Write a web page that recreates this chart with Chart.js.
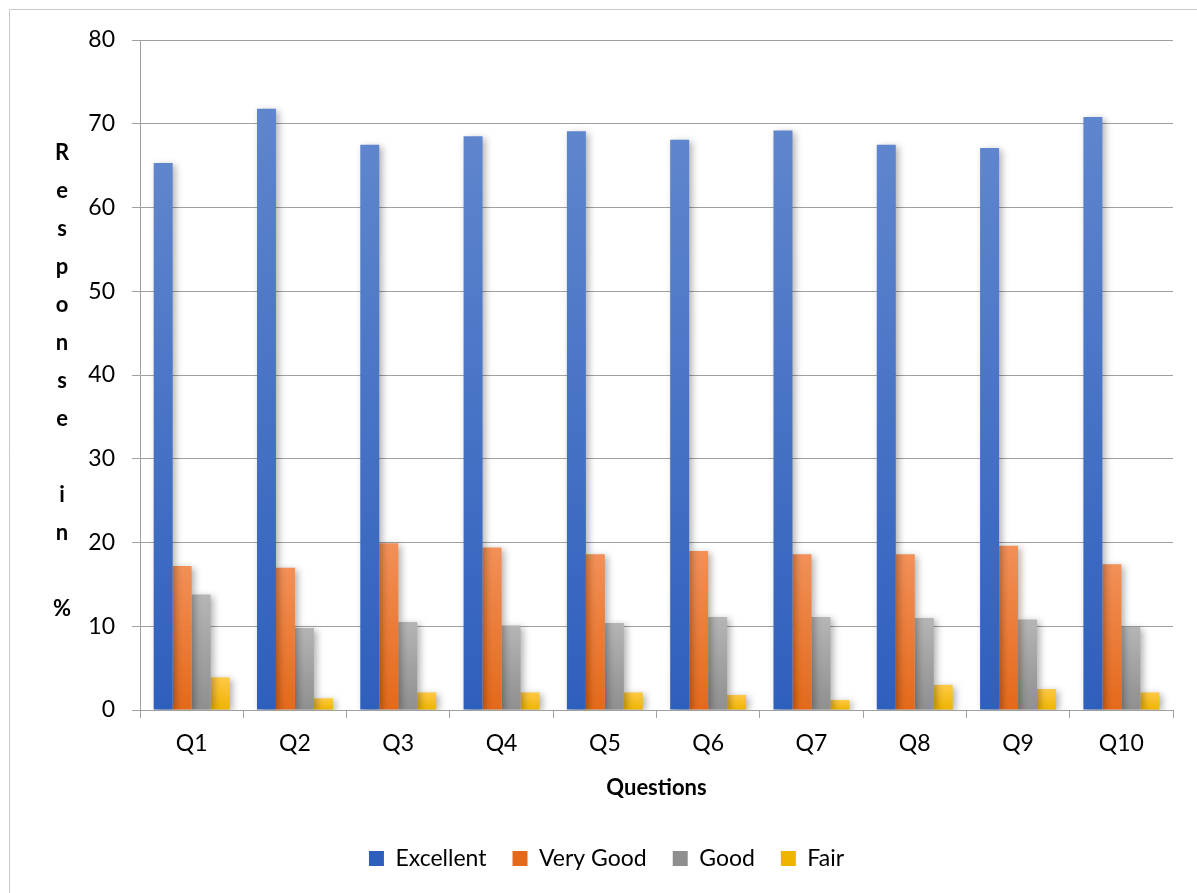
<!DOCTYPE html>
<html>
<head>
<meta charset="utf-8">
<script src="https://cdn.jsdelivr.net/npm/chart.js@4"></script>
<style>
html,body{margin:0;padding:0;background:#fff;}
#wrap{position:relative;width:1197px;height:893px;}
</style>
</head>
<body>
<div id="wrap"><canvas id="c" width="1197" height="893"></canvas></div>
<script>
const categories = ['Q1','Q2','Q3','Q4','Q5','Q6','Q7','Q8','Q9','Q10'];
const excellent = [65.3, 71.8, 67.5, 68.5, 69.1, 68.1, 69.2, 67.5, 67.1, 70.8];
const veryGood = [17.2, 17.0, 19.9, 19.4, 18.6, 19.0, 18.6, 18.6, 19.6, 17.4];
const good = [13.8, 9.8, 10.5, 10.1, 10.4, 11.1, 11.1, 11.0, 10.8, 9.9];
const fair = [3.9, 1.4, 2.1, 2.1, 2.1, 1.8, 1.2, 3.0, 2.5, 2.1];
const seriesNames = ['Excellent','Very Good','Good','Fair'];
const yTitle = 'Response in %';
const xTitle = 'Questions';

const FONT = 'Lato, "Open Sans", sans-serif';
const palettes = [
  ['#5f86cd', '#2f5fbd'],
  ['#f29058', '#e4691a'],
  ['#b5b5b5', '#8f8f8f'],
  ['#ffc945', '#eeb400']
];

function barGradient(idx) {
  return function(ctx) {
    const chart = ctx.chart;
    const c = palettes[idx];
    if (!chart.chartArea || ctx.type !== 'data') return c[0];
    const y = chart.scales.y;
    const top = y.getPixelForValue(ctx.raw);
    const bottom = y.getPixelForValue(0);
    if (!isFinite(top) || !isFinite(bottom) || top === bottom) return c[0];
    const g = chart.ctx.createLinearGradient(0, top, 0, bottom);
    g.addColorStop(0, c[0]);
    g.addColorStop(1, c[1]);
    return g;
  };
}
function legendColor(idx){ return palettes[idx][1]; }

const frameAndTitle = {
  id: 'frameAndTitle',
  beforeDraw(chart) {
    const ctx = chart.ctx;
    ctx.save();
    ctx.strokeStyle = '#c8c8c8';
    ctx.lineWidth = 1;
    ctx.beginPath();
    ctx.moveTo(9.5, 893);
    ctx.lineTo(9.5, 9.5);
    ctx.lineTo(1197, 9.5);
    ctx.stroke();
    ctx.restore();
  },
  afterDraw(chart) {
    const ctx = chart.ctx;
    ctx.save();
    ctx.fillStyle = '#000';
    ctx.font = 'bold 22px ' + FONT;
    ctx.textAlign = 'center';
    ctx.textBaseline = 'middle';
    const chars = yTitle.split('');
    const startY = 153, step = 38.0;
    chars.forEach((ch, i) => {
      if (ch !== ' ') ctx.fillText(ch, 62, startY + i * step);
    });
    ctx.restore();
  }
};

const shadowPlugin = {
  id: 'shadowPlugin',
  beforeDatasetsDraw(chart) {
    const ctx = chart.ctx;
    ctx.save();
    ctx.shadowColor = 'rgba(0,0,0,0.30)';
    ctx.shadowBlur = 7;
    ctx.shadowOffsetX = 3;
    ctx.shadowOffsetY = 2;
  },
  afterDatasetsDraw(chart) {
    chart.ctx.restore();
  }
};

const dataSets = [excellent, veryGood, good, fair].map((arr, i) => ({
  label: seriesNames[i],
  data: arr,
  backgroundColor: barGradient(i),
  borderWidth: 0,
  barPercentage: 1.0,
  categoryPercentage: 0.735
}));

new Chart(document.getElementById('c'), {
  type: 'bar',
  data: { labels: categories, datasets: dataSets },
  plugins: [frameAndTitle, shadowPlugin],
  options: {
    responsive: false,
    animation: false,
    devicePixelRatio: 1,
    layout: { padding: { left: 40, right: 24, top: 40, bottom: 13 } },
    plugins: {
      tooltip: { enabled: false },
      legend: {
        position: 'bottom',
        labels: {
          font: { family: FONT, size: 23 },
          color: '#000',
          boxWidth: 15,
          boxHeight: 15,
          padding: 26,
          generateLabels(chart) {
            return chart.data.datasets.map((d, i) => ({
              text: d.label,
              fillStyle: legendColor(i),
              strokeStyle: legendColor(i),
              lineWidth: 0,
              hidden: false,
              datasetIndex: i
            }));
          }
        }
      }
    },
    scales: {
      x: {
        grid: {
          display: true,
          drawOnChartArea: false,
          drawTicks: true,
          tickLength: 8,
          color: '#a0a0a0',
          offset: true
        },
        border: { display: true, color: '#a0a0a0' },
        ticks: { font: { family: FONT, size: 23 }, color: '#000', padding: 12 },
        title: {
          display: true,
          text: xTitle,
          font: { family: FONT, size: 22, weight: 'bold' },
          color: '#000',
          padding: { top: 5, bottom: 20 }
        }
      },
      y: {
        min: 0,
        max: 80,
        ticks: { stepSize: 10, font: { family: FONT, size: 23 }, color: '#000', padding: 17 },
        grid: { color: '#a0a0a0', tickLength: 8, drawTicks: true },
        border: { display: true, color: '#a0a0a0' },
        afterFit(scale) { scale.width = 100; }
      }
    }
  }
});
</script>
</body>
</html>
